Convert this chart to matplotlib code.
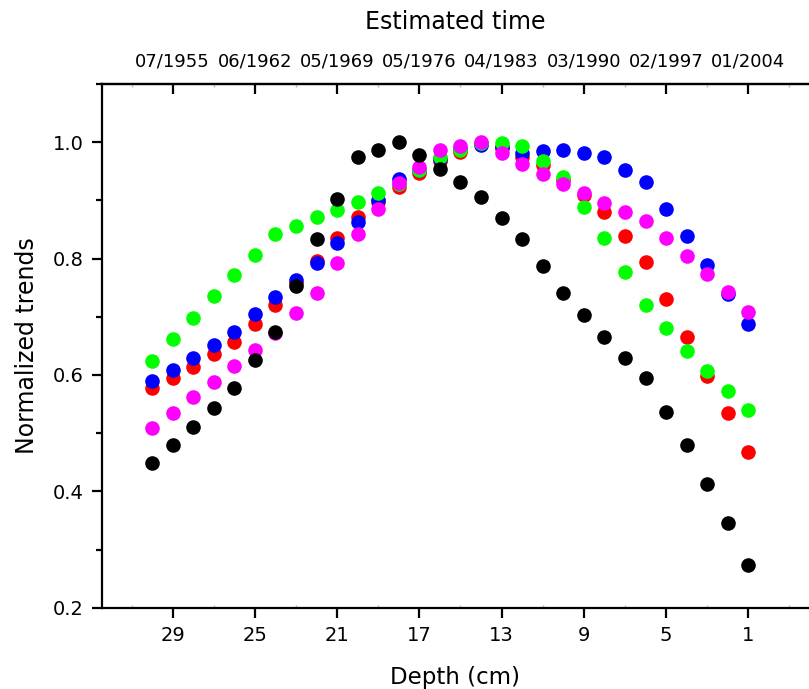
import matplotlib
matplotlib.use("Agg")
import matplotlib.pyplot as plt
from matplotlib.ticker import MultipleLocator, FixedLocator

# depth in cm, from 30 down to 1
depth = list(range(30, 0, -1))

red = [0.577, 0.595, 0.614, 0.636, 0.656, 0.688, 0.720, 0.758, 0.796, 0.835,
       0.872, 0.897, 0.923, 0.947, 0.968, 0.983, 0.998, 0.990, 0.975, 0.961,
       0.935, 0.909, 0.880, 0.839, 0.795, 0.730, 0.666, 0.598, 0.534, 0.467]
blue = [0.589, 0.609, 0.630, 0.652, 0.674, 0.704, 0.734, 0.763, 0.793, 0.827,
        0.863, 0.900, 0.936, 0.952, 0.972, 0.988, 0.996, 0.992, 0.981, 0.985,
        0.987, 0.981, 0.974, 0.953, 0.931, 0.885, 0.839, 0.789, 0.739, 0.688]
green = [0.624, 0.661, 0.698, 0.735, 0.771, 0.807, 0.842, 0.856, 0.872, 0.884,
         0.897, 0.912, 0.929, 0.952, 0.974, 0.987, 0.998, 0.998, 0.994, 0.968,
         0.941, 0.888, 0.835, 0.777, 0.721, 0.681, 0.641, 0.607, 0.572, 0.540]
magenta = [0.509, 0.535, 0.562, 0.588, 0.616, 0.643, 0.672, 0.706, 0.741, 0.792,
           0.842, 0.886, 0.930, 0.958, 0.986, 0.994, 1.000, 0.981, 0.963, 0.946,
           0.928, 0.913, 0.896, 0.880, 0.865, 0.835, 0.805, 0.773, 0.742, 0.708]
black = [0.449, 0.479, 0.510, 0.543, 0.577, 0.625, 0.673, 0.753, 0.833, 0.903,
         0.974, 0.986, 1.000, 0.978, 0.954, 0.931, 0.906, 0.870, 0.834, 0.788,
         0.741, 0.703, 0.665, 0.630, 0.594, 0.537, 0.479, 0.412, 0.345, 0.274]

depth_ticks = [29, 25, 21, 17, 13, 9, 5, 1]
date_labels = ["07/1955", "06/1962", "05/1969", "05/1976",
               "04/1983", "03/1990", "02/1997", "01/2004"]

plt.rcParams['font.family'] = ['DejaVu Sans']

fig = plt.figure(figsize=(8.09, 6.89), dpi=100)
ax = fig.add_axes([0.1257, 0.118, 0.8743, 0.760])

series = [(red, '#ff0000'), (blue, '#0000ff'), (green, '#00ff00'),
          (magenta, '#ff00ff'), (black, '#000000')]
for vals, col in series:
    ax.plot(depth, vals, linestyle='none', marker='o', markersize=10.5,
            color=col, markeredgewidth=0)

ax.set_xlim(32.45, -1.95)
ax.set_ylim(0.2, 1.1)
ax.set_xticks(depth_ticks)
ax.xaxis.set_minor_locator(FixedLocator([31, 27, 23, 19, 15, 11, 7, 3, -1]))
ax.yaxis.set_minor_locator(MultipleLocator(0.1))
ax.set_yticks([0.2, 0.4, 0.6, 0.8, 1.0])
ax.set_yticklabels(['0.2', '0.4', '0.6', '0.8', '1.0'])

for s in ['left', 'bottom', 'top']:
    ax.spines[s].set_linewidth(1.6)
ax.spines['right'].set_visible(False)

ax.tick_params(axis='both', which='major', direction='out', length=7,
               width=1.6, labelsize=14, pad=6)
ax.tick_params(axis='y', which='minor', direction='out', length=4, width=1.6)
ax.tick_params(axis='x', which='minor', direction='in', length=2, width=1,
               color='#bbbbbb')
ax.tick_params(top=False, right=False)

ax.set_xlabel('Depth (cm)', fontsize=16.5, labelpad=15)
ax.set_ylabel('Normalized trends', fontsize=17, labelpad=10)

# top axis with estimated dates
ax2 = ax.twiny()
ax2.set_xlim(ax.get_xlim())
ax2.set_xticks(depth_ticks)
ax2.set_xticklabels(date_labels)
ax2.xaxis.set_minor_locator(FixedLocator([31, 27, 23, 19, 15, 11, 7, 3, -1]))
ax2.tick_params(axis='x', which='major', direction='in', length=7, width=1.6,
                labelsize=13, pad=10)
ax2.tick_params(axis='x', which='minor', direction='in', length=2, width=1,
                color='#bbbbbb')
for s in ['left', 'bottom', 'right']:
    ax2.spines[s].set_visible(False)
ax2.spines['top'].set_linewidth(1.6)
ax2.set_xlabel('Estimated time', fontsize=17, labelpad=17)

fig.savefig('out.png', dpi=100)
